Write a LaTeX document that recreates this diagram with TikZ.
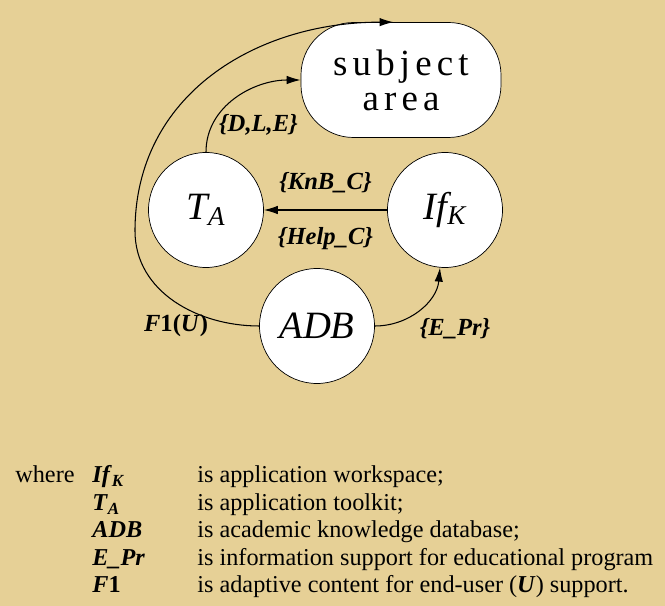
\documentclass[tikz,border=0pt]{standalone}
\usepackage{fontspec}
\setmainfont{Liberation Serif}
\usetikzlibrary{arrows.meta, positioning}
\definecolor{parchment}{RGB}{230,208,150}
\newcommand{\bi}[1]{\textbf{\textit{#1}}}

\begin{document}
\begin{tikzpicture}[
  state/.style={draw, circle, fill=white, minimum size=2.3cm, inner sep=0pt, font=\fontsize{22}{24}\selectfont\itshape},
  flow/.style={-{Latex[length=2.8mm, width=1.7mm]}, line width=0.6pt},
  lbl/.style={font=\fontsize{14}{16}\selectfont\bfseries\itshape},
  legend/.style={anchor=base west, inner sep=0pt, font=\fontsize{13.8}{15}\selectfont}
]
% background
\useasboundingbox (0,0) rectangle (13.3,12.12);
\fill[parchment] (0,0) rectangle (13.3,12.12);

% Nodes
\node[draw, fill=white, rounded corners=1.05cm, minimum width=4.0cm, minimum height=2.3cm, align=center,
  font=\fontsize{21}{20}\selectfont\addfontfeature{LetterSpace=14}] (subj) at (8.02,10.52) {subject\\area};
\node[state] (TA) at (4.12,7.92) {T\textsubscript{A}};
\node[state] (IfK) at (8.9,7.92) {If\textsubscript{K}};
\node[state] (ADB) at (6.34,5.6) {ADB};

% Connectors
\draw[flow] (IfK) -- (TA)
  node[lbl, midway, above=0.22cm] (knb) {\{KnB\_C\}}
  node[lbl, midway, below=0.22cm] (help) {\{Help\_C\}};
\draw[flow] (TA.north) to[out=90, in=180] (subj.west);
\node[lbl] (dle) at (5.17,9.62) {\{D,L,E\}};
\coordinate (loopL) at (2.7,7.5);
\draw[flow] (ADB.west) to[out=180, in=-90] (loopL) to[out=90, in=180, looseness=1.05] ([xshift=-0.15cm]subj.north);
\node[lbl] (f1) at (3.52,5.6) {F\textup{1(}U\textup{)}};
\draw[flow] (ADB.east) to[out=0, in=-95] (IfK.265);
\node[lbl] (epr) at (9.1,5.55) {\{E\_Pr\}};

% Legend
\node[legend] (where) at (0.3,2.46) {where};
\node[legend] (sIf) at (1.84,2.46) {\bi{If}\textsubscript{\bi{K}}};
\node[legend] (sTA) at (1.84,1.91) {\bi{T}\textsubscript{\bi{A}}};
\node[legend] (sADB) at (1.84,1.36) {\bi{ADB}};
\node[legend] (sEPr) at (1.84,0.81) {\bi{E\_Pr}};
\node[legend] (sF1) at (1.84,0.26) {\bi{F}\textbf{1}};
\node[legend] (dIf) at (3.94,2.46) {is application workspace;};
\node[legend] (dTA) at (3.94,1.91) {is application toolkit;};
\node[legend] (dADB) at (3.94,1.36) {is academic knowledge database;};
\node[legend] (dEPr) at (3.94,0.81) {is information support for educational program};
\node[legend] (dF1) at (3.94,0.26) {is adaptive content for end-user (\bi{U}) support.};
\end{tikzpicture}
\end{document}
